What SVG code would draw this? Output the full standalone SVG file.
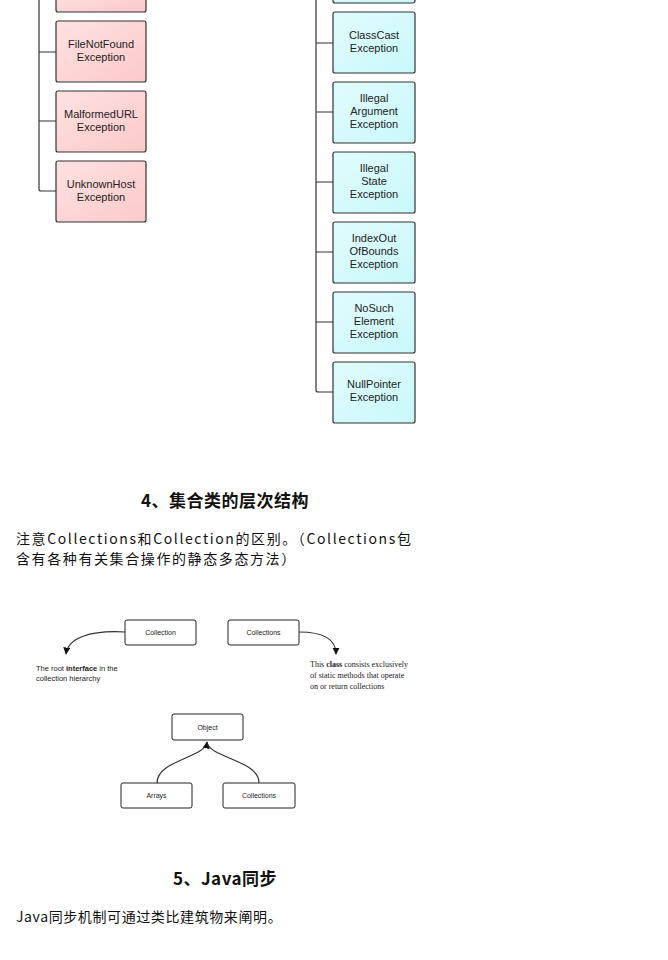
<svg xmlns="http://www.w3.org/2000/svg" width="668" height="960" viewBox="0 0 668 960">
<defs>
<linearGradient id="pk" x1="0" y1="0" x2="1" y2="1"><stop offset="0" stop-color="#fde2e2"/><stop offset="1" stop-color="#fdc9c9"/></linearGradient>
<linearGradient id="cy" x1="0" y1="0" x2="1" y2="1"><stop offset="0" stop-color="#e2fbfc"/><stop offset="1" stop-color="#c8f9fb"/></linearGradient>
<marker id="ar" viewBox="0 0 10 10" refX="9" refY="5" markerWidth="6" markerHeight="6" orient="auto"><path d="M0,0 L10,5 L0,10 z" fill="#111"/></marker>
</defs>
<style>
.p{fill:url(#pk);stroke:#333;stroke-width:1.2}
.c{fill:url(#cy);stroke:#333;stroke-width:1.2}
.w{fill:#fff;stroke:#222;stroke-width:1}
.t{font-family:"Liberation Sans",Arial,sans-serif;font-size:11px;fill:#222;text-anchor:middle}
.s{font-family:"Liberation Sans",Arial,sans-serif;font-size:7px;fill:#222;text-anchor:middle}
.ln{fill:none;stroke:#333;stroke-width:1.2}
.h{font-family:"Noto Sans CJK SC",sans-serif;font-size:17px;font-weight:bold;fill:#111;text-anchor:middle;letter-spacing:0.5px}
.b{font-family:"Noto Sans CJK SC",sans-serif;font-size:14px;fill:#111;letter-spacing:1.6px}
</style>
<rect width="668" height="960" fill="#fff"/>
<g id="connectors">
<path class="ln" d="M39,0 V189 Q39,191 41,191 H56 M39,52 H56 M39,121 H56"/>
<path class="ln" d="M316,0 V390 Q316,392 318,392 H333 M316,43 H333 M316,112 H333 M316,182 H333 M316,252 H333 M316,322 H333"/>
<path class="ln" d="M125,632 C90,630 68,638 66,654" marker-end="url(#ar)"/>
<path class="ln" d="M299,632 C325,632 336,640 336,654" marker-end="url(#ar)"/>
<path class="ln" d="M157,783 C157,760 205,758 207,742" marker-end="url(#ar)"/>
<path class="ln" d="M259,783 C259,760 209,758 207,742"/>
</g>
<g id="n-top-left"><rect class="p" x="56" y="-10" width="90" height="22" rx="2"/></g>
<g id="n-fnf"><rect class="p" x="56" y="21" width="90" height="61" rx="2"/><text class="t" x="101" y="48">FileNotFound</text><text class="t" x="101" y="61">Exception</text></g>
<g id="n-murl"><rect class="p" x="56" y="91" width="90" height="61" rx="2"/><text class="t" x="101" y="118">MalformedURL</text><text class="t" x="101" y="131">Exception</text></g>
<g id="n-uh"><rect class="p" x="56" y="161" width="90" height="61" rx="2"/><text class="t" x="101" y="188">UnknownHost</text><text class="t" x="101" y="201">Exception</text></g>
<g id="n-top-right"><rect class="c" x="333" y="-10" width="82" height="13" rx="2"/></g>
<g id="n-cc"><rect class="c" x="333" y="12" width="82" height="61" rx="2"/><text class="t" x="374" y="39">ClassCast</text><text class="t" x="374" y="52">Exception</text></g>
<g id="n-ia"><rect class="c" x="333" y="82" width="82" height="61" rx="2"/><text class="t" x="374" y="102">Illegal</text><text class="t" x="374" y="115">Argument</text><text class="t" x="374" y="128">Exception</text></g>
<g id="n-is"><rect class="c" x="333" y="152" width="82" height="61" rx="2"/><text class="t" x="374" y="172">Illegal</text><text class="t" x="374" y="185">State</text><text class="t" x="374" y="198">Exception</text></g>
<g id="n-io"><rect class="c" x="333" y="222" width="82" height="61" rx="2"/><text class="t" x="374" y="242">IndexOut</text><text class="t" x="374" y="255">OfBounds</text><text class="t" x="374" y="268">Exception</text></g>
<g id="n-ns"><rect class="c" x="333" y="292" width="82" height="61" rx="2"/><text class="t" x="374" y="312">NoSuch</text><text class="t" x="374" y="325">Element</text><text class="t" x="374" y="338">Exception</text></g>
<g id="n-np"><rect class="c" x="333" y="362" width="82" height="61" rx="2"/><text class="t" x="374" y="388">NullPointer</text><text class="t" x="374" y="401">Exception</text></g>
<text class="h" x="225" y="507">4、集合类的层次结构</text>
<text class="b" x="16" y="544">注意Collections和Collection的区别。（Collections包</text>
<text class="b" x="16" y="564">含有各种有关集合操作的静态多态方法）</text>
<g id="n-collection"><rect class="w" x="125" y="620" width="71" height="25" rx="2"/><text class="s" x="160.5" y="635">Collection</text></g>
<g id="n-collections"><rect class="w" x="228" y="620" width="71" height="25" rx="2"/><text class="s" x="263.5" y="635">Collections</text></g>
<text font-family="Liberation Sans,Arial,sans-serif" font-size="7.5" fill="#222" x="36" y="671">The root <tspan font-weight="bold">interface</tspan> in the</text>
<text font-family="Liberation Sans,Arial,sans-serif" font-size="7.5" fill="#222" x="36" y="681">collection hierarchy</text>
<text font-family="Liberation Serif,serif" font-size="8" fill="#222" x="310" y="667">This <tspan font-weight="bold">class</tspan> consists exclusively</text>
<text font-family="Liberation Serif,serif" font-size="8" fill="#222" x="310" y="678">of static methods that operate</text>
<text font-family="Liberation Serif,serif" font-size="8" fill="#222" x="310" y="689">on or return collections</text>
<g id="n-object"><rect class="w" x="172" y="714" width="71" height="26" rx="2"/><text class="s" x="207.5" y="730">Object</text></g>
<g id="n-arrays"><rect class="w" x="121" y="783" width="71" height="25" rx="2"/><text class="s" x="156.5" y="798">Arrays</text></g>
<g id="n-collections2"><rect class="w" x="223" y="783" width="72" height="25" rx="2"/><text class="s" x="259" y="798">Collections</text></g>
<text class="h" x="225" y="885">5、Java同步</text>
<text class="b" x="16" y="922" style="letter-spacing:0.6px">Java同步机制可通过类比建筑物来阐明。</text>
</svg>
